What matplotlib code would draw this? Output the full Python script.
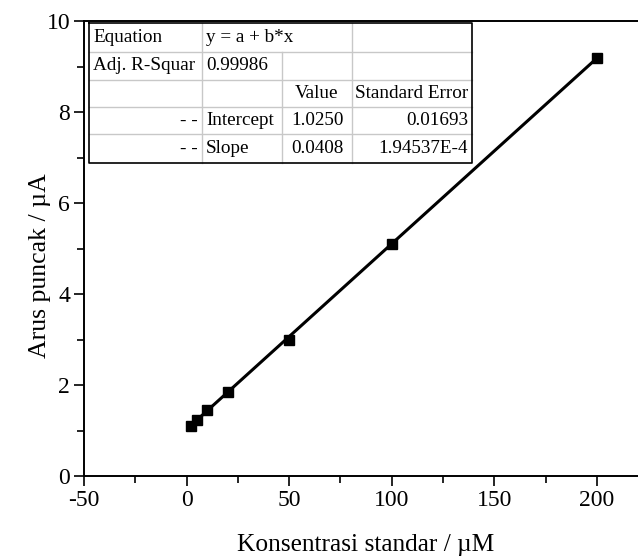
import matplotlib.pyplot as plt
import numpy as np
from matplotlib.lines import Line2D
from matplotlib.ticker import MultipleLocator

plt.rcParams['font.family'] = ['Liberation Serif', 'DejaVu Serif']
plt.rcParams['axes.unicode_minus'] = False

# data
konsentrasi = [2, 5, 10, 20, 50, 100, 200]
arus = [1.10, 1.22, 1.45, 1.85, 3.00, 5.10, 9.18]
intercept = 1.0250
slope = 0.0408

# fit table
tbl_rows = [
    ['Equation', 'y = a + b*x', None, ''],
    ['Adj. R-Squar', '0.99986', '', ''],
    ['', '', 'Value', 'Standard Error'],
    ['- -', 'Intercept', '1.0250', '0.01693'],
    ['- -', 'Slope', '0.0408', '1.94537E-4'],
]
tbl_align = [
    ['left', 'left', 'left', 'left'],
    ['left', 'left', 'left', 'left'],
    ['left', 'left', 'center', 'center'],
    ['right', 'left', 'center', 'right'],
    ['right', 'left', 'center', 'right'],
]

W, H = 638, 559
fig = plt.figure(figsize=(W / 100, H / 100), dpi=100)
ax = fig.add_axes([84 / W, 1 - 476 / H, (638 - 84) / W, (476 - 21) / H])

xf = np.array([konsentrasi[0], konsentrasi[-1]])
ax.plot(xf, intercept + slope * xf, color='black', lw=2.2)
ax.plot(konsentrasi, arus, 's', color='black', ms=7.5)

ax.set_xlim(-50, 220)
ax.set_ylim(0, 10)
ax.xaxis.set_major_locator(MultipleLocator(50))
ax.xaxis.set_minor_locator(MultipleLocator(25))
ax.yaxis.set_major_locator(MultipleLocator(2))
ax.yaxis.set_minor_locator(MultipleLocator(1))
ax.tick_params(which='both', direction='out', width=1.2, labelsize=17, pad=3)
ax.tick_params(which='major', length=7)
ax.tick_params(which='minor', length=5)
ax.tick_params(axis='x', top=False)
for s in ['left', 'bottom', 'top']:
    ax.spines[s].set_linewidth(1.4)
ax.spines['right'].set_visible(False)

ax.set_xlabel('Konsentrasi standar / µM', fontsize=18.3)
ax.set_ylabel('Arus puncak / µA', fontsize=18.5)
ax.xaxis.set_label_coords((366 - 84) / (638 - 84), -(545 - 476) / 455, transform=ax.transAxes)
ax.yaxis.set_label_coords(-(84 - 40) / (638 - 84), (476 - 266) / 455, transform=ax.transAxes)
ax.xaxis.label.set_va('center')
ax.yaxis.label.set_va('center')

# table drawn in figure pixels
cols = [89, 202, 282, 352, 472]
rows = [23, 52, 80, 107, 134, 163]
fx = lambda p: p / W
fy = lambda p: 1 - p / H
tr = fig.transFigure

fig.patches.append(plt.Rectangle((fx(cols[0]), fy(rows[-1])), fx(cols[-1] - cols[0]),
                                 (rows[-1] - rows[0]) / H, transform=tr,
                                 facecolor='white', edgecolor='none', zorder=5))
grey = '#c8c8c8'
for r in rows[1:-1]:
    fig.lines.append(Line2D([fx(cols[0]), fx(cols[-1])], [fy(r), fy(r)], transform=tr,
                            color=grey, lw=1.0, zorder=6))
for i, c in enumerate(cols[1:-1], start=1):
    top = rows[1] if i == 2 else rows[0]
    fig.lines.append(Line2D([fx(c), fx(c)], [fy(top), fy(rows[-1])], transform=tr,
                            color=grey, lw=1.0, zorder=6))
fig.lines.append(Line2D([fx(cols[0]), fx(cols[-1]), fx(cols[-1]), fx(cols[0]), fx(cols[0])],
                        [fy(rows[0]), fy(rows[0]), fy(rows[-1]), fy(rows[-1]), fy(rows[0])],
                        transform=tr, color='black', lw=1.2, zorder=7))

for ri, row in enumerate(tbl_rows):
    yc = (rows[ri] + rows[ri + 1]) / 2
    for ci, txt in enumerate(row):
        if not txt:
            continue
        al = tbl_align[ri][ci]
        if al == 'left':
            xp = cols[ci] + 4
        elif al == 'right':
            xp = cols[ci + 1] - 4
        else:
            xp = (cols[ci] + cols[ci + 1]) / 2
        fig.text(fx(xp), fy(yc), txt, ha=al, va='center', fontsize=13.8, zorder=8)

plt.savefig('out.png', dpi=100)
